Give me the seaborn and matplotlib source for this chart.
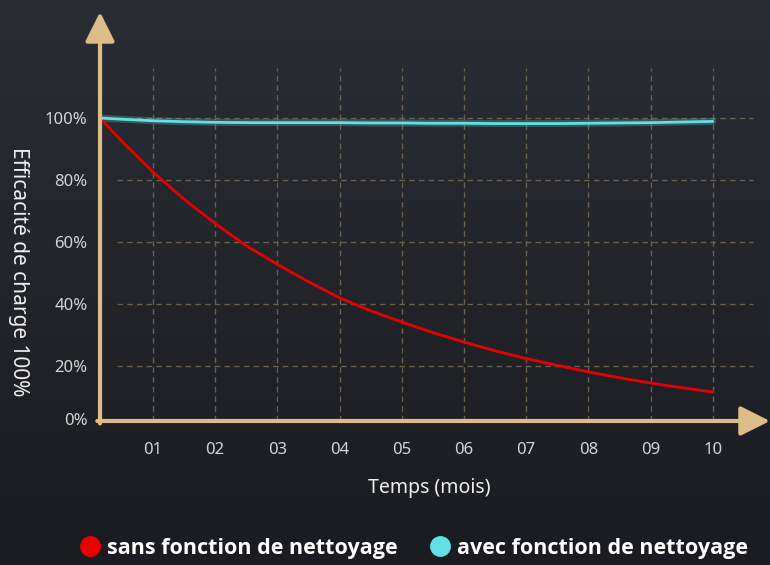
import matplotlib
matplotlib.use("Agg")
import matplotlib.pyplot as plt
from matplotlib.lines import Line2D
import seaborn as sns
import pandas as pd
import numpy as np

# --- data (every half month) ---
months = [0.15, 0.5, 1, 1.5, 2, 2.5, 3, 3.5, 4, 4.5, 5, 5.5, 6, 6.5, 7, 7.5, 8, 8.5, 9, 9.5, 10]
sans_nettoyage = [100, 92.5, 82.6, 73.8, 66.0, 58.8, 52.8, 47.2, 42.0, 37.8, 34.2,
                  30.8, 27.7, 24.9, 22.4, 20.2, 18.1, 16.2, 14.5, 13.0, 11.6]
avec_nettoyage = [100, 99.6, 99.1, 98.8, 98.6, 98.5, 98.5, 98.5, 98.5, 98.4, 98.4,
                  98.3, 98.3, 98.2, 98.2, 98.2, 98.3, 98.4, 98.5, 98.7, 98.9]
series_names = ["sans fonction de nettoyage", "avec fonction de nettoyage"]
series_colors = ["#e80000", "#62e0e4"]
x_ticks = [1, 2, 3, 4, 5, 6, 7, 8, 9, 10]
x_tick_labels = ["01", "02", "03", "04", "05", "06", "07", "08", "09", "10"]
y_ticks = [2.8, 20, 40, 60, 80, 100]
y_tick_labels = ["0%", "20%", "40%", "60%", "80%", "100%"]
grid_y = [20, 40, 60, 80, 100]

df = pd.DataFrame({
    "mois": months * 2,
    "eff": sans_nettoyage + avec_nettoyage,
    "serie": [series_names[0]] * len(months) + [series_names[1]] * len(months),
})

sns.set_theme(style="white")
plt.rcParams['font.family'] = ['Noto Sans', 'DejaVu Sans']

AXIS_COL = "#dcbd88"
GRID_COL = "#6a604c"
TXT_COL = "#d4d4d4"

fig = plt.figure(figsize=(7.7, 5.65), dpi=100)

# dark gradient background
bg = fig.add_axes([0, 0, 1, 1], zorder=-10)
grad = np.linspace(0, 1, 256).reshape(-1, 1)
cmap = matplotlib.colors.LinearSegmentedColormap.from_list("bg", ["#2a2d34", "#1b1c21"])
bg.imshow(grad, aspect="auto", cmap=cmap, extent=[0, 1, 0, 1])
bg.set_axis_off()

ax = fig.add_axes([0.1299, 0.2549, 0.8701, 0.7239])
ax.set_facecolor("none")
ax.set_xlim(0.15, 10.92)
ax.set_ylim(2.26, 134.2)

# dashed grid
ax.hlines(grid_y, 0.42, 10.65, colors=GRID_COL, linestyles=(0, (4, 3)), lw=1, zorder=1)
ax.vlines(x_ticks, 2.26, 116, colors=GRID_COL, linestyles=(0, (4, 3)), lw=1, zorder=1)

# glow for the cyan line
sns.lineplot(data=df[df.serie == series_names[1]], x="mois", y="eff", color=series_colors[1],
             lw=5, alpha=0.25, ax=ax, legend=False, zorder=2)
sns.lineplot(data=df, x="mois", y="eff", hue="serie", palette=series_colors,
             lw=2, ax=ax, legend=False, zorder=3)

for s in ax.spines.values():
    s.set_visible(False)

# axes with arrows
arrow_style = dict(arrowstyle="-|>,head_length=0.9,head_width=0.45", color=AXIS_COL,
                   lw=3, shrinkA=0, shrinkB=0, mutation_scale=20)
ax.annotate("", xy=(0, 1.0), xytext=(0, -0.006), xycoords="axes fraction",
            arrowprops=arrow_style, annotation_clip=False)
ax.annotate("", xy=(1.0, 0), xytext=(-0.004, 0), xycoords="axes fraction",
            arrowprops=arrow_style, annotation_clip=False)

ax.set_xticks(x_ticks)
ax.set_xticklabels(x_tick_labels)
ax.set_yticks(y_ticks)
ax.set_yticklabels(y_tick_labels)
ax.tick_params(axis="both", length=0, colors=TXT_COL, labelsize=12)
ax.tick_params(axis="x", pad=15)
ax.tick_params(axis="y", pad=9)

ax.set_xlabel("Temps (mois)", color="#eeeeee", fontsize=14, va="center")
ax.xaxis.set_label_coords(0.491, -0.164)
ax.set_ylabel("Efficacité de charge 100%", color="#eeeeee", fontsize=15, rotation=270,
              va="center")
ax.yaxis.set_label_coords(-0.122, 0.364)

handles = [Line2D([], [], ls="none", marker="o", markersize=14, color=c) for c in series_colors]
leg = fig.legend(handles, series_names, loc="center", bbox_to_anchor=(0.537, 0.030), ncol=2,
                 frameon=False, handletextpad=0.3, columnspacing=1.45, handlelength=1.0,
                 prop={"family": "Open Sans", "weight": "bold", "size": 15.5})
for t in leg.get_texts():
    t.set_color("white")

fig.savefig("out.png", dpi=100)
